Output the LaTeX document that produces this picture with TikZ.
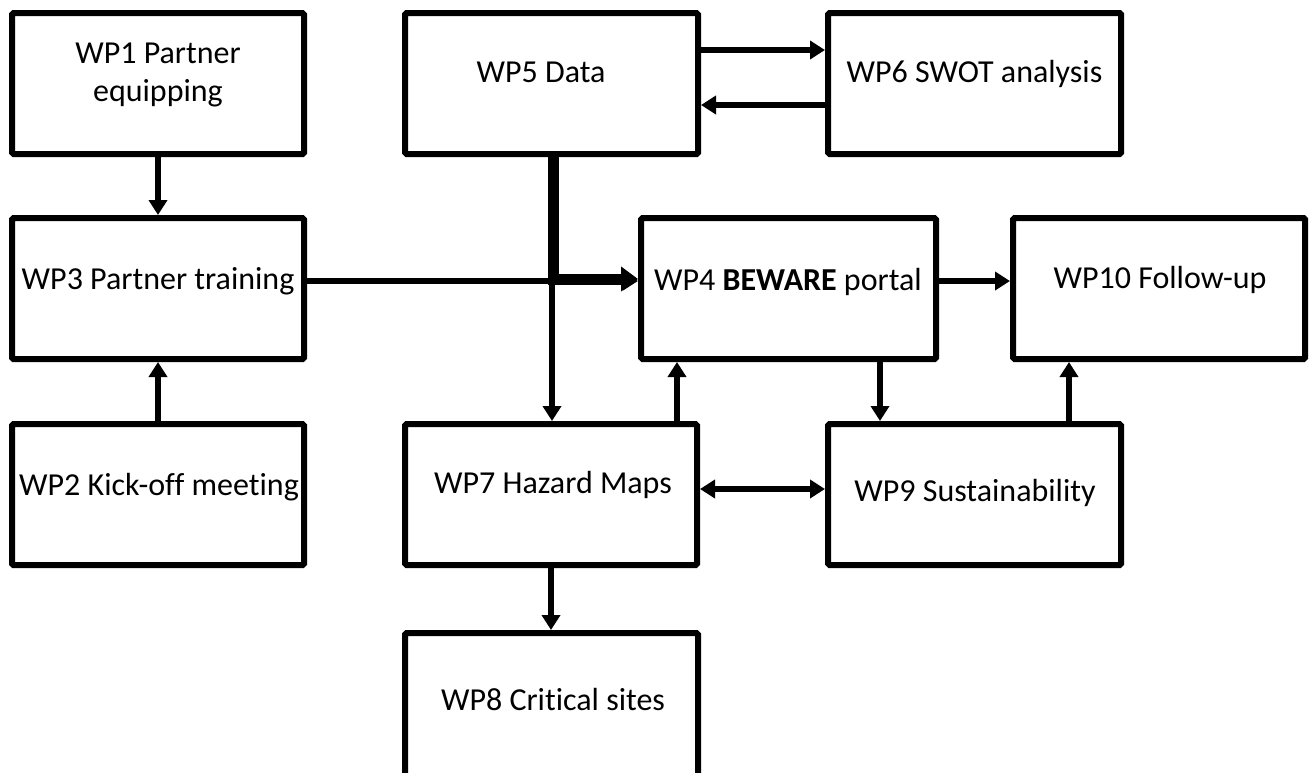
\documentclass[tikz,border=0pt]{standalone}
\usepackage{fontspec}
\setmainfont{Carlito}[Ligatures=NoCommon]
\usetikzlibrary{arrows.meta}
\begin{document}
\begin{tikzpicture}[x=1pt,y=-1pt,
  box/.style={draw, line width=6pt, minimum width=292pt, minimum height=141pt, inner sep=0pt, rounded corners=1.5pt},
  lbl/.style={font=\fontsize{32}{38}\selectfont, inner sep=0pt, anchor=base, align=center},
  con/.style={line width=6pt, -{Triangle[width=18pt,length=15pt]}},
  biconn/.style={line width=6pt, {Triangle[width=18pt,length=15pt]}-{Triangle[width=18pt,length=15pt]}},
  heavycon/.style={line width=11pt, -{Triangle[width=24pt,length=17pt]}}]
\clip (0,0) rectangle (1309,772);
\fill[white] (0,0) rectangle (1309,772);
% boxes
\node[box] (wp1) at (158,83.5) {};
\node[box] (wp3) at (158,288.5) {};
\node[box] (wp2) at (158,494.5) {};
\node[box, minimum width=293pt] (wp5) at (551.5,83.5) {};
\node[box, minimum width=293pt] (wp6) at (974.5,83.5) {};
\node[box, minimum width=295pt] (wp4) at (788.5,288.5) {};
\node[box] (wp10) at (1159,288.5) {};
\node[box] (wp7) at (551,494.5) {};
\node[box, minimum width=293pt] (wp9) at (974.5,494.5) {};
\node[box, minimum width=293pt, minimum height=160pt] (wp8) at (551.5,713) {};
% labels
\node[lbl, anchor=north] (t1) at (158,43) {WP1 Partner\\equipping};
\node[lbl] (t5) at (541,82) {WP5 Data};
\node[lbl] (t6) at (974.5,82) {WP6 SWOT analysis};
\node[lbl] (t3) at (158,289) {WP3 Partner training};
\node[lbl] (t4) at (788,290) {WP4 \textbf{BEWARE} portal};
\node[lbl] (t10) at (1160,288) {WP10 Follow-up};
\node[lbl] (t2) at (159,495) {WP2 Kick-off meeting};
\node[lbl] (t7) at (553,493) {WP7 Hazard Maps};
\node[lbl] (t9) at (975,501) {WP9 Sustainability};
\node[lbl] (t8) at (553,710) {WP8 Critical sites};
% connectors
\draw[con] (wp1) -- (wp3);
\draw[con] (wp2) -- (wp3);
\draw[con] (wp3.east |- 0,281) -- (wp4.west |- 0,281);
\draw[con] (wp5.south -| 552,0) -- (wp7.north -| 552,0);
\draw[heavycon] (wp5.south -| 553.5,0) |- (wp4.west |- 0,279);
\draw[con] (wp5.east |- 0,50) -- (wp6.west |- 0,50);
\draw[con] (wp6.west |- 0,105) -- (wp5.east |- 0,105);
\draw[con] (wp4.east |- 0,281) -- (wp10.west |- 0,281);
\draw[con] (wp4.south -| 880,0) -- (wp9.north -| 880,0);
\draw[con] (wp9.north -| 1069,0) -- (wp10.south -| 1069,0);
\draw[con] (wp7.north -| 677,0) -- (wp4.south -| 677,0);
\draw[biconn] (wp7.east |- 0,489) -- (wp9.west |- 0,489);
\draw[con] (wp7.south -| 551,0) -- (wp8.north -| 551,0);
\end{tikzpicture}
\end{document}
